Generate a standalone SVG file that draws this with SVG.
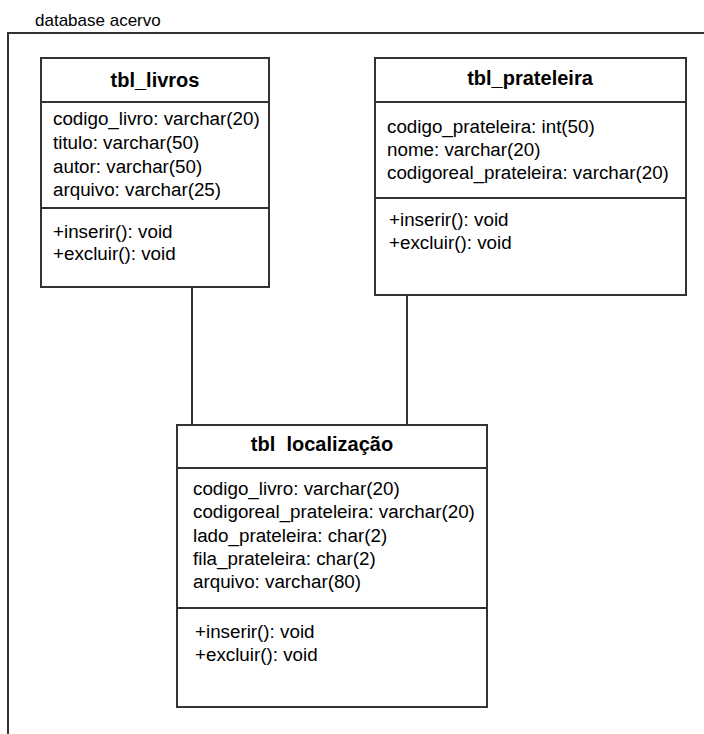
<svg xmlns="http://www.w3.org/2000/svg" width="704" height="734" viewBox="0 0 704 734">
<style>
.box{fill:#fff;stroke:#333;stroke-width:2}
.sep{stroke:#333;stroke-width:2}
.con{stroke:#333;stroke-width:2;fill:none}
text{font-family:"Liberation Sans",Arial,sans-serif;fill:#000}
.t{font-size:20px;font-weight:bold;text-anchor:middle}
.a{font-size:18.8px}
.lbl{font-size:17px}
</style>
<rect width="704" height="734" fill="#fff"/>
<g id="frame">
<path class="con" d="M8,734 V33 H704"/>
<text class="lbl" x="35" y="26">database acervo</text>
</g>
<g id="connectors">
<line class="con" x1="192" y1="287" x2="192" y2="425"/>
<line class="con" x1="407" y1="295" x2="407" y2="425"/>
</g>
<g id="tbl_livros">
<rect class="box" x="41" y="58" width="228" height="229"/>
<line class="sep" x1="41" y1="102" x2="269" y2="102"/>
<line class="sep" x1="41" y1="208" x2="269" y2="208"/>
<text class="t" x="155" y="87">tbl_livros</text>
<text class="a" x="53" y="125">codigo_livro: varchar(20)</text>
<text class="a" x="53" y="149">titulo: varchar(50)</text>
<text class="a" x="53" y="173">autor: varchar(50)</text>
<text class="a" x="53" y="196">arquivo: varchar(25)</text>
<text class="a" x="53" y="238">+inserir(): void</text>
<text class="a" x="53" y="260">+excluir(): void</text>
</g>
<g id="tbl_prateleira">
<rect class="box" x="375" y="58" width="311" height="237"/>
<line class="sep" x1="375" y1="102" x2="686" y2="102"/>
<line class="sep" x1="375" y1="198" x2="686" y2="198"/>
<text class="t" x="530" y="85">tbl_prateleira</text>
<text class="a" x="387" y="133">codigo_prateleira: int(50)</text>
<text class="a" x="387" y="156">nome: varchar(20)</text>
<text class="a" x="387" y="179">codigoreal_prateleira: varchar(20)</text>
<text class="a" x="389" y="226">+inserir(): void</text>
<text class="a" x="389" y="249">+excluir(): void</text>
</g>
<g id="tbl_localizacao">
<rect class="box" x="177" y="425" width="310" height="282"/>
<line class="sep" x1="177" y1="468" x2="487" y2="468"/>
<line class="sep" x1="177" y1="608" x2="487" y2="608"/>
<text class="t" x="322" y="451" xml:space="preserve">tbl  localização</text>
<text class="a" x="193" y="495">codigo_livro: varchar(20)</text>
<text class="a" x="193" y="518">codigoreal_prateleira: varchar(20)</text>
<text class="a" x="193" y="542">lado_prateleira: char(2)</text>
<text class="a" x="193" y="565">fila_prateleira: char(2)</text>
<text class="a" x="193" y="588">arquivo: varchar(80)</text>
<text class="a" x="195" y="638">+inserir(): void</text>
<text class="a" x="195" y="661">+excluir(): void</text>
</g>
</svg>
